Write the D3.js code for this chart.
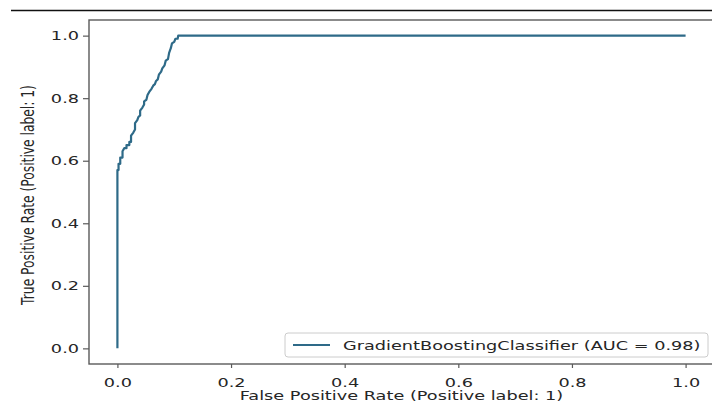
<!DOCTYPE html>
<html>
<head>
<meta charset="utf-8">
<script src="https://cdn.jsdelivr.net/npm/d3@7"></script>
<style>
  html, body { margin: 0; padding: 0; background: #fff; }
  svg { display: block; }
  text { font-family: "DejaVu Sans", sans-serif; fill: #262626; }
</style>
</head>
<body>
<svg id="chart" width="712" height="411"></svg>
<script>
// ---- data ----
const fpr = [0, 0, 0.002, 0.002, 0.005, 0.005, 0.009, 0.009, 0.012, 0.016, 0.016, 0.021, 0.021, 0.024, 0.024, 0.028, 0.031, 0.031, 0.035, 0.037, 0.040, 0.040, 0.044, 0.047, 0.047, 0.051, 0.053, 0.056, 0.060, 0.063, 0.066, 0.068, 0.071, 0.073, 0.077, 0.079, 0.083, 0.085, 0.089, 0.091, 0.094, 0.096, 0.100, 0.102, 0.106, 0.107, 1.0];
const tpr = [0, 0.57, 0.57, 0.59, 0.59, 0.61, 0.61, 0.63, 0.64, 0.64, 0.65, 0.65, 0.66, 0.66, 0.68, 0.69, 0.70, 0.72, 0.73, 0.74, 0.745, 0.76, 0.77, 0.78, 0.79, 0.795, 0.81, 0.82, 0.83, 0.84, 0.845, 0.855, 0.86, 0.875, 0.885, 0.895, 0.905, 0.92, 0.925, 0.945, 0.96, 0.975, 0.98, 0.99, 0.99, 1.0, 1.0];
const xTicks = [0.0, 0.2, 0.4, 0.6, 0.8, 1.0];
const yTicks = [0.0, 0.2, 0.4, 0.6, 0.8, 1.0];
const seriesLabel = "GradientBoostingClassifier (AUC = 0.98)";
const xLabel = "False Positive Rate (Positive label: 1)";
const yLabel = "True Positive Rate (Positive label: 1)";

(function () {
// ---- layout ----
const SX = 1.44;          // horizontal stretch of the reference image text
const FS = 12.3;          // font size
const pLeft = 89, pRight = 714, pTop = 20, pBottom = 364;
const lineColor = "#2e6a88";
const spineColor = "#5a5a5a";
const textColor = "#262626";

const svg = d3.select("#chart");

// top separator line
svg.append("line")
  .attr("x1", 11).attr("x2", 712).attr("y1", 10.5).attr("y2", 10.5)
  .attr("stroke", "#111").attr("stroke-width", 1.6);

const x = d3.scaleLinear().domain([-0.05, 1.05]).range([pLeft, pRight]);
const y = d3.scaleLinear().domain([-0.05, 1.05]).range([pBottom, pTop]);

// curve
const pts = fpr.map((f, i) => [f, tpr[i]]);
svg.append("path")
  .datum(pts)
  .attr("fill", "none")
  .attr("stroke", lineColor)
  .attr("stroke-width", 2.2)
  .attr("stroke-linejoin", "round")
  .attr("d", d3.line().x(d => x(d[0])).y(d => y(d[1])));

// frame
svg.append("rect")
  .attr("x", pLeft).attr("y", pTop)
  .attr("width", pRight - pLeft).attr("height", pBottom - pTop)
  .attr("fill", "none").attr("stroke", spineColor).attr("stroke-width", 1.4);

// x axis
const gx = svg.append("g")
  .attr("transform", `translate(0,${pBottom})`)
  .call(d3.axisBottom(x).tickValues(xTicks).tickFormat(d3.format(".1f")).tickSize(4).tickPadding(10));
gx.select(".domain").remove();
gx.selectAll(".tick line").attr("stroke", spineColor).attr("stroke-width", 1.2);
gx.selectAll(".tick text")
  .attr("font-size", FS).attr("font-family", "DejaVu Sans").attr("fill", textColor)
  .attr("transform", `scale(${SX},1)`);

// y axis
const gy = svg.append("g")
  .attr("transform", `translate(${pLeft},0)`)
  .call(d3.axisLeft(y).tickValues(yTicks).tickFormat(d3.format(".1f")).tickSize(6).tickPadding(4));
gy.select(".domain").remove();
gy.selectAll(".tick line").attr("stroke", spineColor).attr("stroke-width", 1.2);
gy.selectAll(".tick text")
  .attr("font-size", FS).attr("font-family", "DejaVu Sans").attr("fill", textColor)
  .attr("x", -10 / SX)
  .attr("transform", `scale(${SX},1)`);

// axis labels
svg.append("text")
  .attr("transform", `translate(${(pLeft + pRight) / 2},400) scale(${SX},1)`)
  .attr("text-anchor", "middle")
  .attr("font-size", FS)
  .text(xLabel);

svg.append("text")
  .attr("transform", `translate(34,${(pTop + pBottom) / 2 + 3}) rotate(-90) scale(1,${SX})`)
  .attr("text-anchor", "middle")
  .attr("font-size", FS)
  .text(yLabel);

// legend
const lg = svg.append("g");
lg.append("rect")
  .attr("x", 285).attr("y", 333).attr("width", 423).attr("height", 24)
  .attr("rx", 3).attr("fill", "#fff").attr("fill-opacity", 0.85)
  .attr("stroke", "#ccc").attr("stroke-width", 1);
lg.append("line")
  .attr("x1", 293).attr("x2", 330).attr("y1", 345).attr("y2", 345)
  .attr("stroke", lineColor).attr("stroke-width", 2.2);
lg.append("text")
  .attr("transform", `translate(343,349.5) scale(${SX},1)`)
  .attr("font-size", FS)
  .text(seriesLabel);
})();
</script>
</body>
</html>
